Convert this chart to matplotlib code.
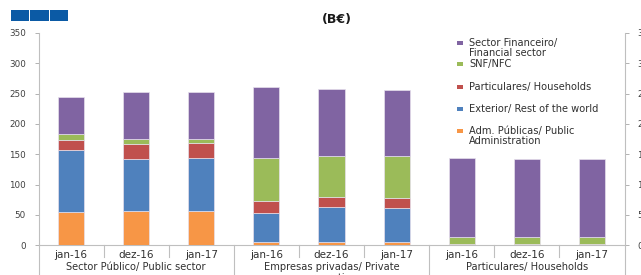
import matplotlib
matplotlib.use("Agg")
import matplotlib.pyplot as plt
from matplotlib.patches import Rectangle
from matplotlib.lines import Line2D
import numpy as np

periods = ["jan-16", "dez-16", "jan-17"] * 3
groups = ["Sector Público/ Public sector", "Empresas privadas/ Private\ncorporations", "Particulares/ Households"]
series_names = ["Adm. Públicas/ Public\nAdministration", "Exterior/ Rest of the world",
                "Particulares/ Households", "SNF/NFC", "Sector Financeiro/\nFinancial sector"]
adm_publicas = [55, 56, 56, 5, 6, 6, 0, 0, 0]
exterior = [102, 87, 88, 49, 56.5, 56, 0, 0, 0]
particulares = [17, 24, 24, 19, 17, 16.5, 1.5, 1.5, 1.5]
snf = [9, 9, 8, 71, 68, 68, 12, 12, 12]
financeiro = [62, 76, 77, 117, 110, 110, 130.5, 129, 129]
colors = ["#F79646", "#4F81BD", "#C0504D", "#9BBB59", "#8064A2"]
yticks = [0, 50, 100, 150, 200, 250, 300, 350]

W, H = 641, 275
fig = plt.figure(figsize=(W / 100, H / 100), dpi=100)
x0, x1 = 38.5, 624.5
y0, y1 = 245.3, 33.0
ax = fig.add_axes([x0 / W, 1 - y0 / H, (x1 - x0) / W, (y0 - y1) / H])

x = np.arange(len(periods))
bottom = np.zeros(len(periods))
for vals, c in zip([adm_publicas, exterior, particulares, snf, financeiro], colors):
    ax.bar(x, vals, width=0.4, bottom=bottom, color=c, edgecolor="#E6E0EC", linewidth=0.5, zorder=3)
    bottom += np.array(vals)

ax.set_xlim(-0.5, len(periods) - 0.5)
ax.set_ylim(0, 350)
ax.set_yticks(yticks)
ax.tick_params(axis="y", labelsize=6.3, colors="#404040", length=3, width=0.6,
               labelcolor="#404040", pad=6, right=True, labelright=True)
ax.tick_params(axis="y", which="both", color="#A6A6A6")
ax.set_xticks([])
for s in ["top"]:
    ax.spines[s].set_visible(False)
for s in ["left", "right", "bottom"]:
    ax.spines[s].set_color("#BFBFBF")
    ax.spines[s].set_linewidth(0.8)

# category labels and separators
tr = ax.get_xaxis_transform()
for i, p in enumerate(periods):
    ax.text(i, -0.022, p, transform=tr, ha="center", va="top", fontsize=7.5, color="#303030")
for b in np.arange(-0.5, len(periods), 1.0):
    k = int(round(b + 0.5))
    if k % 3 == 0:
        ymin = -0.2
    else:
        ymin = -0.055
    ax.add_line(Line2D([b, b], [0, ymin], transform=tr, color="#BFBFBF", lw=0.8, clip_on=False))
for g, name in enumerate(groups):
    ax.text(3 * g + 1, -0.078, name, transform=tr, ha="center", va="top", fontsize=7.1,
            color="#303030", linespacing=1.1)

# title
fig.text(337 / W, 1 - 20 / H, "(B€)", ha="center", va="center", fontsize=9, fontweight="bold", color="#1a1a1a")

# top-left blue boxes
for bx0, bx1 in [(11, 29.3), (30.3, 49), (50, 67.7)]:
    fig.patches.append(Rectangle((bx0 / W, 1 - 20.7 / H), (bx1 - bx0) / W, 10.7 / H,
                                 transform=fig.transFigure, facecolor="#0B5AA5", edgecolor="none"))

# legend (top to bottom, reversed stack order)
leg_y = [43, 64, 87, 109, 131]
for name, c, yy in zip(series_names[::-1], colors[::-1], leg_y):
    fig.patches.append(Rectangle((457 / W, 1 - (yy + 2) / H), 6 / W, 4 / H,
                                 transform=fig.transFigure, facecolor=c, edgecolor="none"))
    fig.text(469 / W, 1 - (yy - 5) / H, name, ha="left", va="top", fontsize=7.1,
             color="#303030", linespacing=1.05)

fig.savefig("out.png", dpi=100)
